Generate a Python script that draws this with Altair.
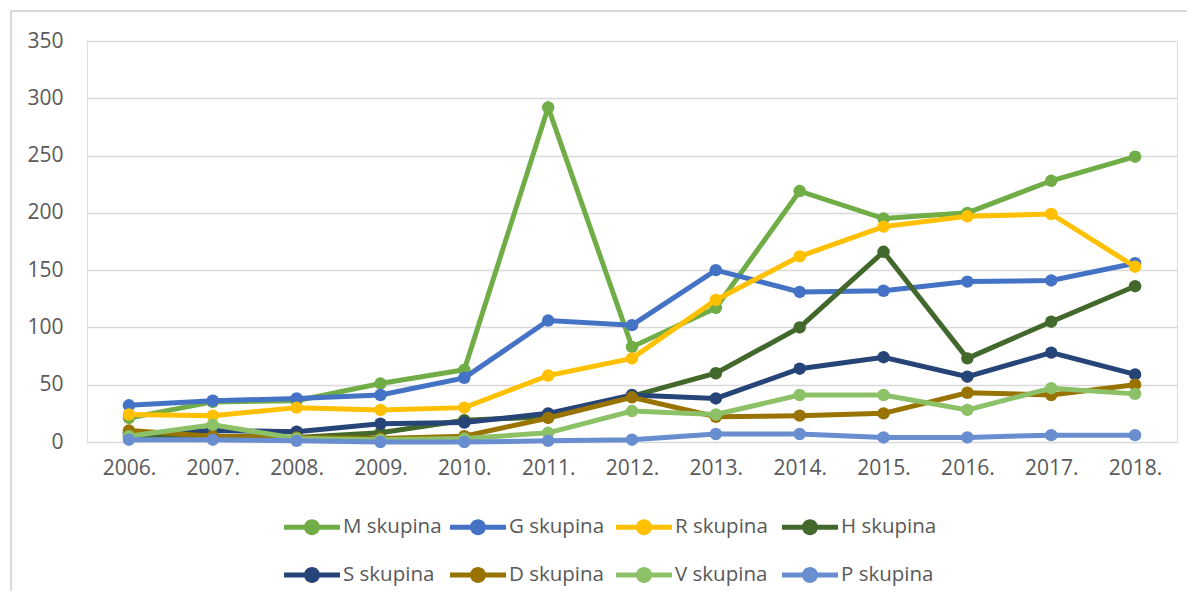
import altair as alt
import pandas as pd

years = ["2006.", "2007.", "2008.", "2009.", "2010.", "2011.", "2012.",
         "2013.", "2014.", "2015.", "2016.", "2017.", "2018."]

series_names = ["M skupina", "G skupina", "R skupina", "H skupina",
                "S skupina", "D skupina", "V skupina", "P skupina"]
series_colors = ["#70AD47", "#4472C4", "#FFC000", "#43682B",
                 "#264478", "#997300", "#8CC168", "#698ED0"]

m_vals = [21, 35, 36, 51, 63, 292, 83, 117, 219, 195, 200, 228, 249]
g_vals = [32, 36, 38, 41, 56, 106, 102, 150, 131, 132, 140, 141, 156]
r_vals = [24, 23, 30, 28, 30, 58, 73, 124, 162, 188, 197, 199, 153]
h_vals = [5, 5, 4, 8, 19, 22, 40, 60, 100, 166, 73, 105, 136]
s_vals = [7, 10, 9, 16, 17, 25, 41, 38, 64, 74, 57, 78, 59]
d_vals = [10, 5, 4, 3, 5, 21, 39, 22, 23, 25, 43, 41, 50]
v_vals = [5, 15, 3, 2, 3, 8, 27, 24, 41, 41, 28, 47, 42]
p_vals = [2, 2, 1, 0, 0, 1, 2, 7, 7, 4, 4, 6, 6]

all_vals = [m_vals, g_vals, r_vals, h_vals, s_vals, d_vals, v_vals, p_vals]

rows = []
for name, vals in zip(series_names, all_vals):
    for y, v in zip(years, vals):
        rows.append({"year": y, "value": v, "series": name})
df = pd.DataFrame(rows)

FONT = "Open Sans"
TXT = "#595959"

x_enc = alt.X("year:N", sort=years, axis=alt.Axis(
    title=None, labelAngle=0, ticks=False, domain=False, grid=False,
    labelFontSize=21, labelColor=TXT, labelFont=FONT, labelPadding=15))
y_enc = alt.Y("value:Q", scale=alt.Scale(domain=[0, 350], nice=False),
              axis=alt.Axis(title=None, values=[0, 50, 100, 150, 200, 250, 300, 350],
                            ticks=False, domain=False, grid=True,
                            gridColor="#D9D9D9", gridWidth=1.5,
                            labelFontSize=21, labelColor=TXT, labelFont=FONT,
                            labelPadding=24))

legend_path = ("M-1,-0.18 L3,-0.18 L3,0.18 L-1,0.18 Z "
               "M1.57,0 A0.57,0.57 0 1,1 0.43,0 A0.57,0.57 0 1,1 1.57,0 Z")

legend = alt.Legend(
    title=None, orient="none", legendX=197, legendY=472, columns=4,
    direction="horizontal", gridAlign="all",
    symbolType=legend_path, symbolSize=784, symbolStrokeWidth=0,
    symbolOpacity=1, labelOffset=31, labelFontSize=20.5, labelFont=FONT,
    labelColor=TXT, columnPadding=8, rowPadding=23, padding=0,
    labelLimit=200)

color_scale = alt.Scale(domain=series_names, range=series_colors)

frame = alt.Chart(pd.DataFrame({"a": [0]})).mark_rect(
    fillOpacity=0, stroke="#D9D9D9", strokeWidth=2, clip=False
).encode(x=alt.value(-76), x2=alt.value(1130), y=alt.value(-30), y2=alt.value(620))

layers = [frame]
base = alt.Chart(df)
for name, col in zip(series_names, series_colors):
    sub = base.transform_filter(alt.datum.series == name)
    line = sub.mark_line(strokeWidth=5, color=col).encode(x=x_enc, y=y_enc)
    pts = sub.mark_circle(size=155, opacity=1).encode(
        x=x_enc, y=y_enc,
        color=alt.Color("series:N", scale=color_scale, legend=legend))
    layers += [line, pts]

chart = alt.layer(*layers).properties(
    width=1090, height=401,
    autosize=alt.AutoSizeParams(type="none"),
    padding={"left": 79, "top": 33, "right": 10, "bottom": 149},
).configure_view(stroke=None).configure(font=FONT)

chart.save("out.html", embed_options={"renderer": "svg", "actions": False})
